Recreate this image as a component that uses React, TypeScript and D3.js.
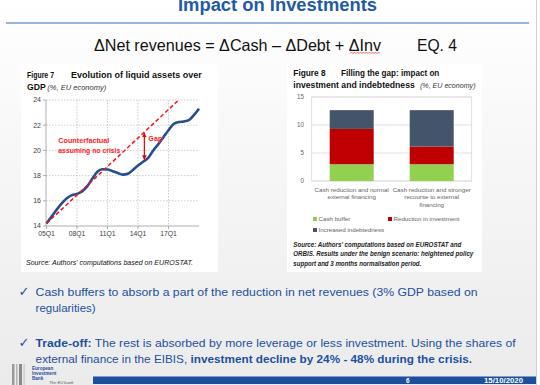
import React, { useEffect, useRef } from "react";
import * as d3 from "d3";

// Figure 7: liquid assets over GDP, one value every second quarter (05Q1 = 0)
const liquidQuarters = [0, 2, 4, 6, 8, 10, 12, 14, 16, 18, 20, 22, 24, 26, 28, 30, 32, 34, 36, 38, 40, 42, 44, 46, 48, 50, 52, 54, 56, 58, 60];
const liquidValues = [14.2, 14.75, 15.3, 15.8, 16.2, 16.45, 16.55, 16.75, 17.15, 17.75, 18.3, 18.5, 18.48, 18.35, 18.2, 18.08, 18.15, 18.45, 18.8, 19.1, 19.4, 20.0, 20.5, 21.05, 21.6, 22.1, 22.25, 22.3, 22.4, 22.8, 23.3];
const counterQuarters = [0, 52];
const counterValues = [14.2, 24];
const gapQuarter = 38.5;
const gapValues = [21.45, 19.2];
const xTickQuarters = [0, 12, 24, 36, 48];
const xTickLabels = ["05Q1", "08Q1", "11Q1", "14Q1", "17Q1"];
const yTicks7 = [14, 16, 18, 20, 22, 24];

// Figure 8: filling the gap
const scenarioKeys = ["normal", "stronger"];
const scenarioLabels = [
	["Cash reduction and normal", "external financing"],
	["Cash reduction and stronger", "recourse to external", "financing"],
];
const seriesNames = ["Cash buffer", "Reduction in investment", "Increased indebtedness"];
const cashBuffer = [3.0, 3.0];
const investmentCut = [6.3, 3.15];
const indebtedness = [3.35, 6.5];
const seriesColors = ["#92d050", "#c00000", "#44546a"];
const yTicks8 = [0, 5, 10, 15];

const FONT = "'Liberation Sans', Arial, sans-serif";
const BLUE = "#1d4f9f";
const FIG = 8.6;

function addText(parent, x, y, str, o: any = {}) {
	const t = parent
		.append("text")
		.attr("x", x)
		.attr("y", y)
		.attr("font-family", o.family || FONT)
		.attr("font-size", o.size || 10)
		.attr("font-weight", o.weight || "normal")
		.attr("font-style", o.italic ? "italic" : "normal")
		.attr("fill", o.fill || "#111")
		.attr("text-anchor", o.anchor || "start");
	if (o.len) t.attr("textLength", o.len).attr("lengthAdjust", "spacingAndGlyphs");
	if (Array.isArray(str)) {
		str.forEach(([s, bold]) => {
			t.append("tspan").attr("font-weight", bold ? "bold" : "normal").text(s);
		});
	} else {
		t.text(str);
	}
	return t;
}

export default function App() {
	const ref = useRef<SVGSVGElement>(null);

	useEffect(() => {
		const svg = d3.select(ref.current);
		svg.selectAll("*").remove();

		const defs = svg.append("defs");
		const grad = defs
			.append("linearGradient")
			.attr("id", "bg")
			.attr("x1", 0)
			.attr("y1", 0)
			.attr("x2", 0)
			.attr("y2", 1);
		grad.append("stop").attr("offset", "0%").attr("stop-color", "#ffffff");
		grad.append("stop").attr("offset", "100%").attr("stop-color", "#ebebeb");
		defs.append("clipPath")
			.attr("id", "plot7")
			.append("rect")
			.attr("x", 46)
			.attr("y", 100)
			.attr("width", 153)
			.attr("height", 126);
		defs.append("marker")
			.attr("id", "arrowRed")
			.attr("viewBox", "0 0 10 10")
			.attr("refX", 9)
			.attr("refY", 5)
			.attr("markerWidth", 4)
			.attr("markerHeight", 4)
			.attr("orient", "auto-start-reverse")
			.append("path")
			.attr("d", "M0,0 L10,5 L0,10 z")
			.attr("fill", "#e60000");

		// slide background
		svg.append("rect").attr("width", 540).attr("height", 385).attr("fill", "#ffffff");
		svg.append("rect").attr("width", 536).attr("height", 385).attr("fill", "url(#bg)");
		svg.append("line").attr("x1", 536.5).attr("x2", 536.5).attr("y1", 0).attr("y2", 385).attr("stroke", "#cfcfcf");

		// header
		addText(svg, 178, 10.5, "Impact on Investments", { size: 17.5, weight: "bold", fill: "#1f5aa6", len: 199 });
		svg.append("line").attr("x1", 6).attr("x2", 529).attr("y1", 23).attr("y2", 23).attr("stroke", "#2f6db5").attr("stroke-width", 1.2);
		addText(svg, 94, 51, "ΔNet revenues = ΔCash – ΔDebt + ΔInv", { size: 16.5, len: 287 });
		addText(svg, 417, 51, "EQ. 4", { size: 16.5, len: 40 });
		const wave = d3.range(350, 381, 1.5).map((x, i) => [x, i % 2 ? 52 : 53.6]);
		svg.append("path").attr("d", d3.line()(wave)).attr("fill", "none").attr("stroke", "#e03030").attr("stroke-width", 0.7);

		// panels
		svg.append("rect").attr("x", 21).attr("y", 64).attr("width", 197).attr("height", 208).attr("fill", "#ffffff");
		svg.append("rect").attr("x", 287).attr("y", 64).attr("width", 195).attr("height", 208).attr("fill", "#ffffff");

		// ---------- Figure 7 ----------
		addText(svg, 27, 77.5, "Figure 7", { size: FIG, weight: "bold", len: 27 });
		addText(svg, 71, 77.5, "Evolution of liquid assets over", { size: FIG, weight: "bold", len: 130.7 });
		addText(svg, 27, 89.5, "GDP", { size: FIG, weight: "bold", len: 18.7 });
		addText(svg, 47.3, 89.5, "(%, EU economy)", { size: 7, italic: true, fill: "#333", len: 59 });

		const x7 = d3.scaleLinear().domain([0, 60]).range([46.5, 199]);
		const y7 = d3.scaleLinear().domain([14, 24]).range([226, 100]);
		const g7 = svg.append("g");

		yTicks7.slice(1).forEach((v) => {
			g7.append("line").attr("x1", 46).attr("x2", 199).attr("y1", y7(v)).attr("y2", y7(v))
				.attr("stroke", "#b8b8b8").attr("stroke-width", 0.7).attr("stroke-dasharray", "1.5,1.5");
		});
		xTickQuarters.slice(1).forEach((q) => {
			g7.append("line").attr("x1", x7(q)).attr("x2", x7(q)).attr("y1", 100).attr("y2", 226)
				.attr("stroke", "#b8b8b8").attr("stroke-width", 0.7).attr("stroke-dasharray", "1.5,1.5");
		});
		g7.append("line").attr("x1", 46).attr("x2", 46).attr("y1", 100).attr("y2", 226).attr("stroke", "#9a9a9a").attr("stroke-width", 0.8);
		g7.append("line").attr("x1", 46).attr("x2", 199).attr("y1", 226).attr("y2", 226).attr("stroke", "#9a9a9a").attr("stroke-width", 0.8);
		yTicks7.forEach((v) => {
			g7.append("line").attr("x1", 43).attr("x2", 46).attr("y1", y7(v)).attr("y2", y7(v)).attr("stroke", "#9a9a9a").attr("stroke-width", 0.8);
			addText(g7, 41, y7(v) + 2.4, String(v), { size: 7, fill: "#404040", anchor: "end" });
		});
		xTickQuarters.forEach((q, i) => {
			g7.append("line").attr("x1", x7(q)).attr("x2", x7(q)).attr("y1", 226).attr("y2", 229).attr("stroke", "#9a9a9a").attr("stroke-width", 0.8);
			addText(g7, x7(q), 236, xTickLabels[i], { size: 6.8, fill: "#404040", anchor: "middle" });
		});

		const line7 = d3.line<number>()
			.x((d, i) => x7(liquidQuarters[i]))
			.y((d) => y7(d))
			.curve(d3.curveMonotoneX);
		g7.append("path").attr("d", line7(liquidValues)).attr("fill", "none")
			.attr("stroke", "#234e91").attr("stroke-width", 2.6).attr("stroke-linejoin", "round");

		const cf = d3.line<number>()
			.x((d, i) => x7(counterQuarters[i]))
			.y((d) => y7(d));
		g7.append("path").attr("d", cf(counterValues)).attr("fill", "none").attr("clip-path", "url(#plot7)")
			.attr("stroke", "#ff1010").attr("stroke-width", 1.5).attr("stroke-dasharray", "4,2.5");

		g7.append("line")
			.attr("x1", x7(gapQuarter)).attr("x2", x7(gapQuarter))
			.attr("y1", y7(gapValues[0]) + 1).attr("y2", y7(gapValues[1]) - 1)
			.attr("stroke", "#e60000").attr("stroke-width", 1.2)
			.attr("marker-start", "url(#arrowRed)").attr("marker-end", "url(#arrowRed)");
		addText(g7, 148.3, 141, "Gap", { size: 8, weight: "bold", fill: "#ff1a1a", len: 14 });
		addText(g7, 58.3, 143, "Counterfactual", { size: 8, weight: "bold", fill: "#ff1a1a", len: 51 });
		addText(g7, 58.3, 153, "assuming no crisis", { size: 8, weight: "bold", fill: "#ff1a1a", len: 62 });

		addText(svg, 26, 265, "Source: Authors' computations based on EUROSTAT.", { size: 6.8, italic: true, fill: "#111", len: 167 });

		// ---------- Figure 8 ----------
		addText(svg, 293.3, 75.7, "Figure 8", { size: FIG, weight: "bold", len: 32.4 });
		addText(svg, 341, 75.7, "Filling the gap: impact on", { size: FIG, weight: "bold", len: 98.3 });
		addText(svg, 293.3, 87.5, "investment and indebtedness", { size: 8.2, weight: "bold", len: 121.5 });
		addText(svg, 420, 87.5, "(%, EU economy)", { size: 7, italic: true, fill: "#333", len: 55.5 });

		const x8 = d3.scaleBand().domain(scenarioKeys).range([311.7, 471.7]).paddingInner(0.45).paddingOuter(0.225);
		const y8 = d3.scaleLinear().domain([0, 15]).range([181, 97]);
		const g8 = svg.append("g");

		yTicks8.forEach((v) => {
			g8.append("line").attr("x1", 311.7).attr("x2", 471.7).attr("y1", y8(v)).attr("y2", y8(v))
				.attr("stroke", "#d9d9d9").attr("stroke-width", 0.8);
			addText(g8, 304, y8(v) + 2.2, String(v), { size: 6.3, fill: "#666", anchor: "end" });
		});
		g8.append("rect").attr("x", 311.7).attr("y", 97).attr("width", 160).attr("height", 84)
			.attr("fill", "none").attr("stroke", "#d9d9d9").attr("stroke-width", 0.8);

		const rows = scenarioKeys.map((k, i) => ({
			key: k,
			[seriesNames[0]]: cashBuffer[i],
			[seriesNames[1]]: investmentCut[i],
			[seriesNames[2]]: indebtedness[i],
		}));
		const stacked = d3.stack().keys(seriesNames)(rows as any);
		const color8 = d3.scaleOrdinal<string>().domain(seriesNames).range(seriesColors);

		g8.selectAll("g.series")
			.data(stacked)
			.join("g")
			.attr("class", "series")
			.attr("fill", (d) => color8(d.key))
			.selectAll("rect")
			.data((d) => d)
			.join("rect")
			.attr("x", (d: any) => x8(d.data.key))
			.attr("y", (d) => y8(d[1]))
			.attr("height", (d) => y8(d[0]) - y8(d[1]))
			.attr("width", x8.bandwidth());

		scenarioKeys.forEach((k, i) => {
			const cx = x8(k) + x8.bandwidth() / 2;
			scenarioLabels[i].forEach((s, j) => {
				addText(g8, cx, 191.5 + j * 7.5, s, { size: 6.2, fill: "#666", anchor: "middle" });
			});
		});

		const legendPos = [[313, 221], [388, 221], [313, 232]];
		seriesNames.forEach((s, i) => {
			const [lx, ly] = legendPos[i];
			g8.append("rect").attr("x", lx).attr("y", ly - 4).attr("width", 4).attr("height", 4).attr("fill", seriesColors[i]);
			addText(g8, lx + 5.5, ly, s, { size: 6.2, fill: "#666" });
		});

		addText(svg, 293.3, 246.5, "Source: Authors' computations based on EUROSTAT and", { size: 6.8, italic: true, weight: "bold", fill: "#222", len: 168 });
		addText(svg, 293.3, 256, "ORBIS. Results under the benign scenario: heightened policy", { size: 6.8, italic: true, weight: "bold", fill: "#222", len: 180 });
		addText(svg, 293.3, 265.5, "support and 3 months normalisation period.", { size: 6.8, italic: true, weight: "bold", fill: "#222", len: 128 });

		// ---------- bullets ----------
		addText(svg, 18.5, 296, "✓", { size: 13, fill: BLUE, family: "'DejaVu Sans', sans-serif" });
		addText(svg, 35.6, 295.5, "Cash buffers to absorb a part of the reduction in net revenues (3% GDP based on", { size: 11, fill: BLUE, len: 442 });
		addText(svg, 35.6, 312, "regularities)", { size: 11, fill: BLUE, len: 60 });
		addText(svg, 18.5, 347, "✓", { size: 13, fill: BLUE, family: "'DejaVu Sans', sans-serif" });
		addText(svg, 35.6, 346.5, [["Trade-off:", true], [" The rest is absorbed by more leverage or less investment. Using the shares of", false]], { size: 11, fill: BLUE, len: 480 });
		addText(svg, 35.6, 363, [["external finance in the EIBIS, ", false], ["investment decline by 24% - 48% during the crisis.", true]], { size: 11, fill: BLUE, len: 436.5 });

		// ---------- footer ----------
		svg.append("rect").attr("x", 93).attr("y", 376.5).attr("width", 443).attr("height", 7.5).attr("fill", "#1c4f9c");
		addText(svg, 406, 382.8, "6", { size: 6.5, weight: "bold", fill: "#ffffff" });
		addText(svg, 484, 382.8, "15/10/2020", { size: 6.5, weight: "bold", fill: "#ffffff", len: 39 });
		const logo = svg.append("g");
		[[12, 2.5, "#9a9a9a"], [16, 1.5, "#b5b5b5"], [19, 3, "#8a8a8a"], [23.5, 1.2, "#c5c5c5"]].forEach(([lx, lw, c]: any) => {
			logo.append("rect").attr("x", lx).attr("y", 364).attr("width", lw).attr("height", 21).attr("fill", c);
		});
		addText(logo, 32, 369.5, "European", { size: 4.6, weight: "bold", fill: "#1f4e9c" });
		addText(logo, 32, 374.5, "Investment", { size: 4.6, weight: "bold", fill: "#1f4e9c" });
		addText(logo, 32, 379.5, "Bank", { size: 4.6, weight: "bold", fill: "#1f4e9c" });
		addText(logo, 49, 383.5, "The EU bank", { size: 4.2, italic: true, fill: "#555" });
	}, []);

	return (
		<svg
			ref={ref}
			width={540}
			height={385}
			style={{ position: "fixed", left: 0, top: 0, display: "block" }}
		/>
	);
}
